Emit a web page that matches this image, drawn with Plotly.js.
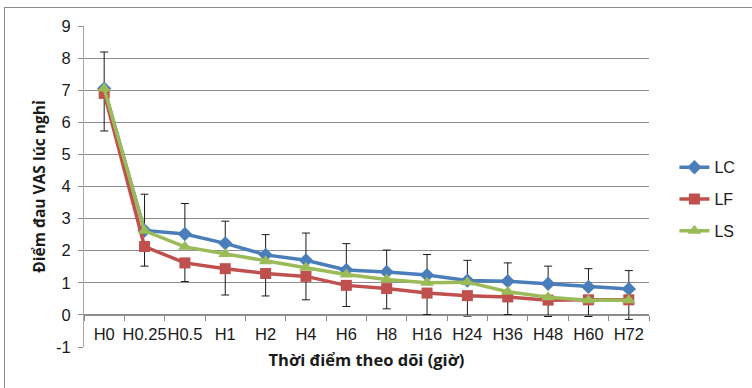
<!DOCTYPE html>
<html>
<head>
<meta charset="utf-8">
<script src="https://cdn.plot.ly/plotly-3.0.1.min.js"></script>
<style>
  html, body { margin: 0; padding: 0; background: #fff; }
  #wrap { position: relative; width: 752px; height: 388px; overflow: hidden; }
  #frame { position: absolute; left: 4px; top: 7px; width: 760px; height: 400px; border: 1px solid #8c8c8c; box-sizing: border-box; pointer-events: none; z-index: 5; }
  #chart { position: absolute; left: 0; top: 0; width: 752px; height: 388px; }
</style>
</head>
<body>
<div id="wrap">
  <div id="chart"></div>
  <div id="frame"></div>
</div>
<script>
const categories = ["H0", "H0.25", "H0.5", "H1", "H2", "H4", "H6", "H8", "H16", "H24", "H36", "H48", "H60", "H72"];
const lcValues = [7.05, 2.63, 2.52, 2.23, 1.87, 1.70, 1.40, 1.34, 1.24, 1.07, 1.05, 0.97, 0.87, 0.81];
const lfValues = [6.90, 2.13, 1.62, 1.44, 1.29, 1.20, 0.92, 0.82, 0.68, 0.60, 0.56, 0.46, 0.47, 0.47];
const lsValues = [7.05, 2.62, 2.12, 1.90, 1.67, 1.47, 1.26, 1.10, 1.00, 1.02, 0.72, 0.55, 0.46, 0.46];
const lcErrorPlus = [1.14, 1.13, 0.95, 0.69, 0.63, 0.85, 0.82, 0.68, 0.64, 0.63, 0.57, 0.55, 0.57, 0.57];
const lfErrorMinus = [1.17, 0.61, 0.58, 0.82, 0.70, 0.73, 0.66, 0.63, 0.67, 0.64, 0.55, 0.51, 0.52, 0.61];
const yTickValues = [-1, 0, 1, 2, 3, 4, 5, 6, 7, 8, 9];
const yTickLabels = ["-1", "0", "1", "2", "3", "4", "5", "6", "7", "8", "9"];
const seriesNames = ["LC", "LF", "LS"];

const errStyle = { color: "#1a1a1a", thickness: 1, width: 4 };
const tickFont = { family: "Liberation Sans, Arial, sans-serif", size: 16.5, color: "#1a1a1a" };

const traces = [
  {
    x: categories, y: lcValues, name: seriesNames[0], type: "scatter", mode: "lines+markers",
    legendgroup: "a",
    line: { color: "#4A7EBB", width: 3.5 },
    marker: { symbol: "diamond", size: 11, color: "#4A7EBB" },
    error_y: Object.assign({ type: "data", symmetric: false, array: lcErrorPlus, arrayminus: lcValues.map(() => 0) }, errStyle)
  },
  {
    x: categories, y: lfValues, name: seriesNames[1], type: "scatter", mode: "lines+markers",
    legendgroup: "b",
    line: { color: "#C0504D", width: 3.5 },
    marker: { symbol: "square", size: 11, color: "#C0504D" },
    error_y: Object.assign({ type: "data", symmetric: false, array: lfValues.map(() => 0), arrayminus: lfErrorMinus }, errStyle)
  },
  {
    x: categories, y: lsValues, name: seriesNames[2], type: "scatter", mode: "lines+markers",
    legendgroup: "c",
    line: { color: "#9BBB59", width: 3.5 },
    marker: { symbol: "triangle-up", size: 12, color: "#9BBB59" }
  }
];

const layout = {
  width: 752, height: 388,
  margin: { l: 84, r: 97, t: 26, b: 41, pad: 0 },
  paper_bgcolor: "#ffffff", plot_bgcolor: "#ffffff",
  font: { family: "Liberation Sans, Arial, sans-serif", size: 15, color: "#1a1a1a" },
  showlegend: true,
  legend: {
    x: 1.045, xanchor: "left", y: 0.46, yanchor: "middle",
    font: { family: "Liberation Sans, Arial, sans-serif", size: 16, color: "#1a1a1a" },
    traceorder: "grouped", tracegroupgap: 8,
    itemwidth: 30, bgcolor: "rgba(0,0,0,0)"
  },
  xaxis: {
    type: "category",
    range: [-0.5, 13.5],
    showgrid: false,
    showline: true, linecolor: "#8c8c8c", linewidth: 1,
    ticks: "outside", ticklen: 5, tickcolor: "#8c8c8c", tickson: "boundaries",
    tickangle: 0,
    ticklabelstandoff: 4,
    tickfont: tickFont,
    anchor: "free", position: 0.1,
    fixedrange: true,
    title: { text: "<b>Thời điểm theo dõi (giờ)</b>", font: { family: "Open Sans, sans-serif", size: 16.5, color: "#1a1a1a" }, standoff: 12 }
  },
  yaxis: {
    range: [-1, 9],
    tickvals: yTickValues,
    ticktext: yTickLabels,
    showgrid: true, gridcolor: "#8c8c8c", gridwidth: 1,
    zeroline: false,
    showline: true, linecolor: "#a6a6a6", linewidth: 1,
    ticks: "outside", ticklen: 5, tickcolor: "#8c8c8c",
    ticklabelstandoff: 4,
    tickfont: tickFont,
    fixedrange: true,
    title: { text: "<b>Điểm đau VAS lúc nghỉ</b>", font: { family: "Open Sans, sans-serif", size: 15.5, color: "#1a1a1a" }, standoff: 6 }
  }
};

Plotly.newPlot("chart", traces, layout, { displayModeBar: false, staticPlot: true });
</script>
</body>
</html>
